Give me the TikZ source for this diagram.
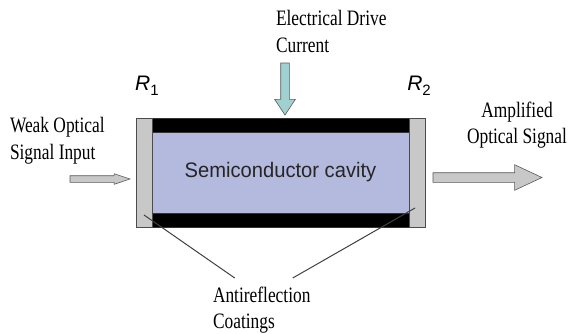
\documentclass[tikz,border=0pt]{standalone}
\usepackage{fontspec}
\setmainfont{Liberation Serif}[FakeStretch=0.79]
\setsansfont{Liberation Sans}
\newfontfamily\cavfont{Liberation Sans}[FakeStretch=0.96]
\usetikzlibrary{positioning,shapes.arrows}

\definecolor{cavblue}{RGB}{180,185,222}
\definecolor{mirrorgray}{RGB}{200,200,200}
\definecolor{driveteal}{RGB}{160,208,208}

\begin{document}
\begin{tikzpicture}[
    x=1pt, y=-1pt,
    every node/.style={inner sep=0pt, outer sep=0pt},
    txt/.style={font=\fontsize{22}{27}\selectfont, align=left, anchor=north west},
    ctxt/.style={font=\fontsize{22}{26}\selectfont, align=center, anchor=north},
    cavity/.style={fill=cavblue, minimum width=257pt, minimum height=81pt, text=black!85,
        font=\cavfont\fontsize{21}{24}\selectfont},
    bar/.style={fill=black, draw=black!80, line width=0.6pt, minimum width=257pt, minimum height=14pt},
    mirror/.style={fill=mirrorgray, draw=black!70, line width=0.6pt, minimum width=16pt, minimum height=109pt},
    refl/.style={font=\sffamily\itshape\fontsize{21}{24}\selectfont},
    bigarrow/.style={single arrow, draw=black!65, line width=0.6pt, inner xsep=0pt, anchor=tail}
]

% Marco de la imagen
\useasboundingbox (0,0) rectangle (568,333);

% Cavidad y capas negras arriba y abajo
\node[cavity] (cav) at (280.5,172.5) {Semiconductor cavity};
\node[bar, above=0pt of cav] (top) {};
\node[bar, below=0pt of cav] (bot) {};

% Espejos a cada lado
\node[mirror, left=0pt of cav] (mirL) {};
\node[mirror, right=0pt of cav] (mirR) {};

% Etiquetas R1 y R2
\node[refl] (R1) at (147,86) {R\raisebox{-0.45ex}{\upshape\fontsize{15}{15}\selectfont 1}};
\node[refl] (R2) at (419,86) {R\raisebox{-0.45ex}{\upshape\fontsize{15}{15}\selectfont 2}};

% Flechas de entrada, salida y corriente
\node[bigarrow, fill=mirrorgray, minimum height=60pt, inner ysep=3pt,
    single arrow head extend=2pt, single arrow tip angle=37] (inArr) at (70,179) {};
\node[bigarrow, fill=mirrorgray, minimum height=109pt, inner ysep=4.5pt,
    single arrow head extend=8pt, single arrow tip angle=50] (outArr) at (433,177.5) {};
\node[bigarrow, fill=driveteal, minimum height=52pt, inner ysep=4pt, rotate=-90,
    single arrow head extend=6pt, single arrow tip angle=67] (drvArr) at (285,63) {};

% Textos
\node[txt] (elec) at (276,10) {Electrical Drive\\Current};
\node[txt] (weak) at (10,117) {Weak Optical\\Signal Input};
\node[ctxt] (ampl) at (517,102) {Amplified\\Optical Signal};
\node[txt, font=\fontsize{22}{26}\selectfont] (coat) at (213,287) {Antireflection\\Coatings};

% Lineas hacia los recubrimientos
\coordinate (arL) at (144,215);
\coordinate (arR) at (415,208);
\draw[black!75, line width=1pt] (arL) -- ([xshift=-27pt,yshift=9pt]coat.north);
\draw[black!75, line width=1pt] (arR) -- ([xshift=31pt,yshift=9pt]coat.north);

\end{tikzpicture}
\end{document}
